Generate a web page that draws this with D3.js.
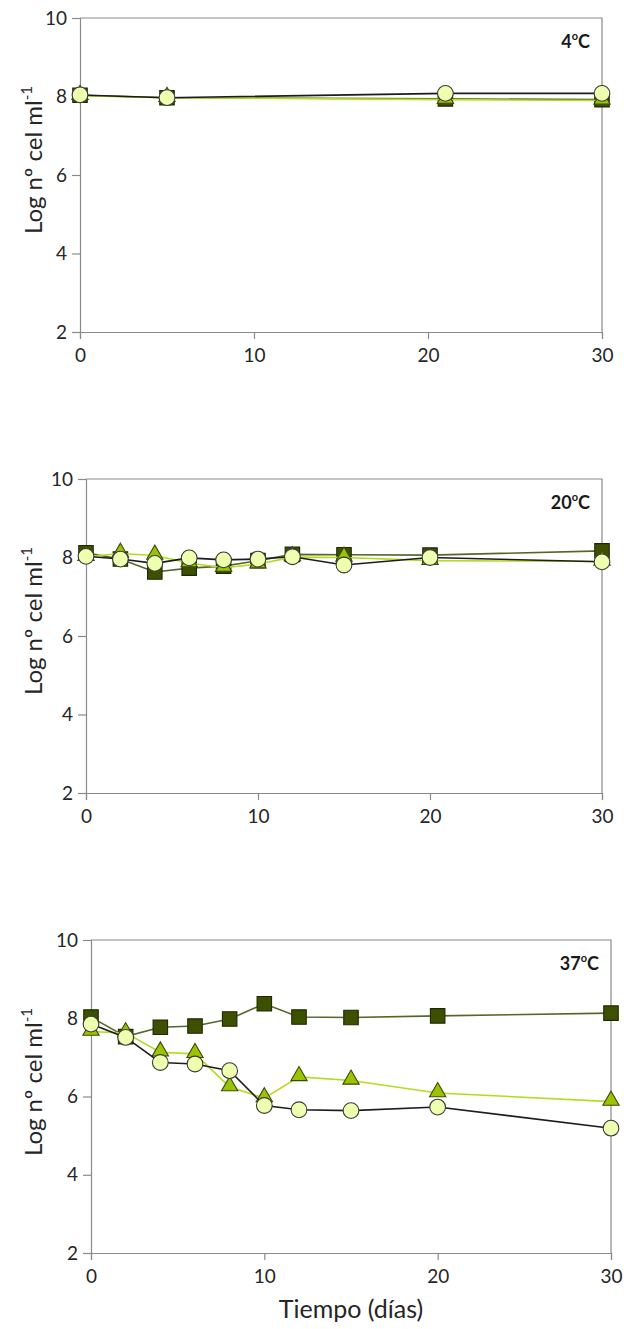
<!DOCTYPE html>
<html lang="es">
<head>
<meta charset="utf-8">
<title>Log nº cel ml-1 vs tiempo</title>
<script src="https://cdn.jsdelivr.net/npm/d3@7"></script>
<style>
  body { margin: 0; background: #ffffff; }
  svg { display: block; font-family: Lato, "Open Sans", sans-serif; }
  .tick text { fill: #262626; font-size: 19px; }
</style>
</head>
<body>
<script>
// data
var xTicks = [0, 10, 20, 30];
var yTicks = [2, 4, 6, 8, 10];
var temps = ["4", "20", "37"];

var days4 = [0, 5, 21, 30];
var square4 = [8.03, 7.97, 7.94, 7.92];
var triangle4 = [8.02, 7.97, 7.92, 7.9];
var circle4 = [8.04, 7.97, 8.08, 8.08];

var days20 = [0, 2, 4, 6, 8, 10, 12, 15, 20, 30];
var square20 = [8.12, 7.96, 7.63, 7.73, 7.78, 7.92, 8.08, 8.07, 8.06, 8.17];
var triangle20 = [8.02, 8.1, 8.05, 7.86, 7.74, 7.83, 8.01, 8.0, 7.92, 7.9];
var circle20 = [8.03, 7.96, 7.85, 7.99, 7.94, 7.96, 8.02, 7.81, 8.0, 7.89];

var days37 = [0, 2, 4, 6, 8, 10, 12, 15, 20, 30];
var square37 = [8.03, 7.53, 7.77, 7.8, 7.98, 8.37, 8.03, 8.02, 8.06, 8.13];
var triangle37 = [7.66, 7.62, 7.13, 7.09, 6.24, 5.96, 6.5, 6.41, 6.09, 5.87];
var circle37 = [7.85, 7.51, 6.87, 6.83, 6.66, 5.77, 5.66, 5.64, 5.73, 5.19];

var w = 624, h = 1329;

var svg = d3.select("body").append("svg")
  .attr("width", w)
  .attr("height", h);

var styles = {
  square:   { line: "#56662a", fill: "#3d5000", stroke: "#1e2800" },
  triangle: { line: "#b3dc1e", fill: "#9cc300", stroke: "#3c4a10" },
  circle:   { line: "#1c1c1c", fill: "#efffb0", stroke: "#3a3a3a" }
};

function drawPanel(p) {
  var x = d3.scaleLinear().domain([0, 30]).range([p.left, p.right]);
  var y = d3.scaleLinear().domain([2, 10]).range([p.bottom, p.top]);
  var g = svg.append("g");

  // frame (top + right)
  g.append("path")
    .attr("d", "M" + p.left + "," + p.top + "H" + p.right + "V" + p.bottom)
    .attr("fill", "none").attr("stroke", "#8a8a8a").attr("stroke-width", 1.2);

  var xAxis = g.append("g")
    .attr("transform", "translate(0," + p.bottom + ")")
    .call(d3.axisBottom(x).tickValues(xTicks).tickSize(7).tickPadding(10));
  var yAxis = g.append("g")
    .attr("transform", "translate(" + p.left + ",0)")
    .call(d3.axisLeft(y).tickValues(yTicks).tickSize(8).tickPadding(5));
  [xAxis, yAxis].forEach(function(a) {
    a.select(".domain").attr("stroke", "#8a8a8a").attr("stroke-width", 1.2);
    a.selectAll(".tick line").attr("stroke", "#8a8a8a").attr("stroke-width", 1.2);
    a.attr("font-family", null).attr("font-size", null);
  });

  // y title
  var yt = g.append("text")
    .attr("transform", "translate(" + 42 + "," + (p.top + 142) + ") rotate(-90)")
    .attr("text-anchor", "middle")
    .attr("fill", "#262626")
    .attr("font-size", 24);
  yt.append("tspan").text("Log nº cel ml");
  yt.append("tspan").attr("font-size", 15).attr("dy", -10).text("-1");

  // panel label
  var lab = g.append("text")
    .attr("x", p.right - 12)
    .attr("y", p.top + 30)
    .attr("text-anchor", "end")
    .attr("font-weight", "bold")
    .attr("font-size", 18)
    .attr("fill", "#1a1a1a");
  lab.append("tspan").text(p.temp);
  lab.append("tspan").attr("font-size", 11).attr("dy", -8).text("o");
  lab.append("tspan").attr("dy", 8).text("C");

  var line = d3.line()
    .x(function(d) { return x(d[0]); })
    .y(function(d) { return y(d[1]); });

  p.series.forEach(function(s) {
    var st = styles[s.shape];
    var pts = d3.zip(p.days, s.values);
    g.append("path")
      .datum(pts)
      .attr("d", line)
      .attr("fill", "none")
      .attr("stroke", st.line)
      .attr("stroke-width", 1.6);
    var sym = s.shape === "square" ? d3.symbolSquare
            : s.shape === "triangle" ? d3.symbolTriangle : d3.symbolCircle;
    var size = s.shape === "square" ? 210 : s.shape === "triangle" ? 115 : 195;
    g.selectAll(null)
      .data(pts)
      .enter()
      .append("path")
      .attr("d", d3.symbol().type(sym).size(size))
      .attr("transform", function(d) {
        var dy = s.shape === "triangle" ? -1 : 0;
        return "translate(" + x(d[0]) + "," + (y(d[1]) + dy) + ")";
      })
      .attr("fill", st.fill)
      .attr("stroke", st.stroke)
      .attr("stroke-width", 1.1);
  });
}

drawPanel({ left: 80, right: 602, top: 18, bottom: 332, temp: temps[0], days: days4,
  series: [{ shape: "square", values: square4 }, { shape: "triangle", values: triangle4 }, { shape: "circle", values: circle4 }] });
drawPanel({ left: 86, right: 602, top: 479, bottom: 793, temp: temps[1], days: days20,
  series: [{ shape: "square", values: square20 }, { shape: "triangle", values: triangle20 }, { shape: "circle", values: circle20 }] });
drawPanel({ left: 91, right: 611, top: 940, bottom: 1253, temp: temps[2], days: days37,
  series: [{ shape: "square", values: square37 }, { shape: "triangle", values: triangle37 }, { shape: "circle", values: circle37 }] });

// x title
svg.append("text")
  .attr("x", 351)
  .attr("y", 1318)
  .attr("text-anchor", "middle")
  .attr("fill", "#262626")
  .attr("font-size", 25)
  .text("Tiempo (días)");
</script>
</body>
</html>
